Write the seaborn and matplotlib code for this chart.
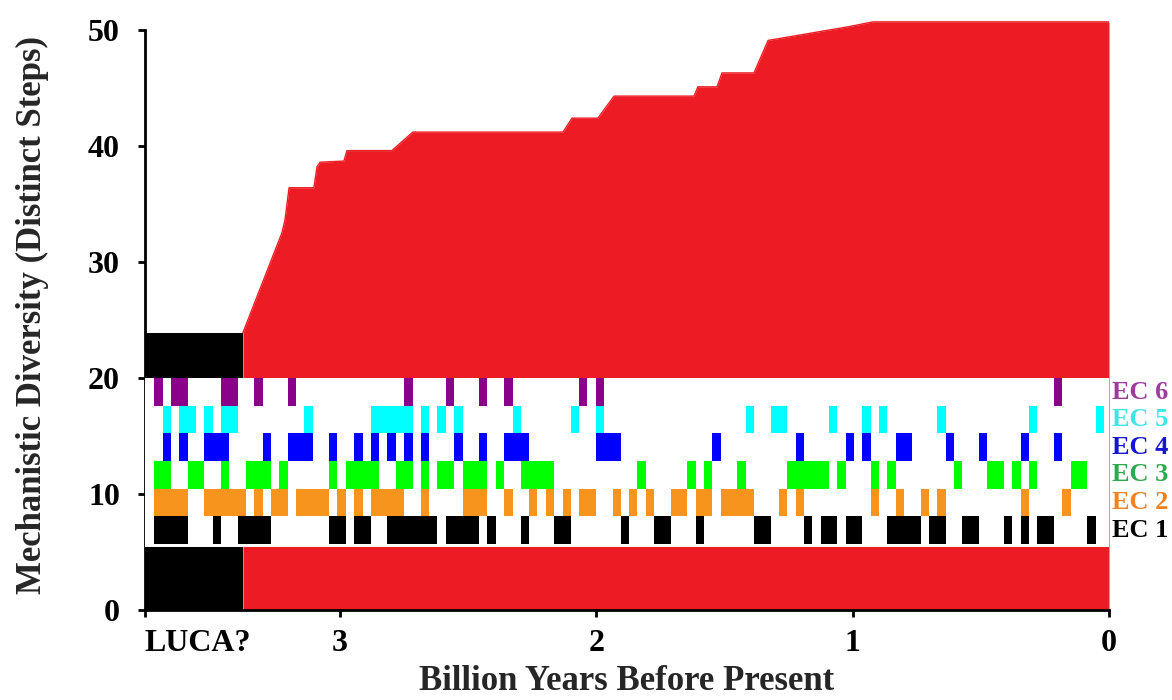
"""Mechanistic diversity through time, with EC-class event rows."""
import matplotlib
matplotlib.use("Agg")
import matplotlib.pyplot as plt
import seaborn as sns

sns.set_theme(style="white")
plt.rcParams["font.family"] = ["Liberation Serif", "DejaVu Serif"]
plt.rcParams["font.weight"] = "bold"

RED = "#ED1C24"

# cumulative distinct steps (age in Gyr before present)
age = [3.379, 3.227, 3.215, 3.199, 3.102, 3.090, 3.078, 2.985, 2.973, 2.798,
       2.716, 2.130, 2.095, 1.994, 1.931, 1.619, 1.604, 1.529, 1.510, 1.385,
       1.330, 1.011, 0.921, 0.0]
steps = [23.9, 32.5, 33.6, 36.4, 36.4, 38.2, 38.6, 38.7, 39.6, 39.6,
         41.2, 41.2, 42.4, 42.4, 44.3, 44.3, 45.1, 45.1, 46.3, 46.3,
         49.1, 50.3, 50.7, 50.7]

# LUCA block
luca_age, luca_end, luca_steps = 3.761, 3.379, 23.9
band_lo, band_hi = 5.45, 20.0

# events per EC class: (older, younger) in Gyr
ec1 = [(3.725, 3.595), (3.497, 3.465), (3.400, 3.270), (3.042, 2.977), (2.945, 2.880),
       (2.815, 2.620), (2.587, 2.457), (2.425, 2.392), (2.295, 2.262), (2.165, 2.100),
       (1.905, 1.872), (1.775, 1.710), (1.612, 1.580), (1.385, 1.320), (1.190, 1.157),
       (1.125, 1.060), (1.027, 0.962), (0.865, 0.735), (0.702, 0.637), (0.572, 0.507),
       (0.410, 0.377), (0.345, 0.312), (0.280, 0.215), (0.085, 0.052)]
ec2 = [(3.725, 3.595), (3.530, 3.367), (3.335, 3.302), (3.270, 3.205), (3.172, 3.042),
       (3.010, 2.977), (2.945, 2.912), (2.880, 2.750), (2.685, 2.652), (2.522, 2.425),
       (2.360, 2.327), (2.262, 2.230), (2.197, 2.165), (2.132, 2.100), (2.067, 2.002),
       (1.937, 1.905), (1.872, 1.840), (1.807, 1.775), (1.710, 1.645), (1.612, 1.547),
       (1.515, 1.385), (1.287, 1.255), (1.222, 1.190), (0.930, 0.897), (0.832, 0.800),
       (0.735, 0.702), (0.670, 0.637), (0.345, 0.312), (0.182, 0.150)]
ec3 = [(3.725, 3.660), (3.595, 3.530), (3.465, 3.432), (3.367, 3.270), (3.237, 3.205),
       (3.042, 3.010), (2.977, 2.847), (2.782, 2.717), (2.685, 2.652), (2.620, 2.555),
       (2.522, 2.425), (2.392, 2.360), (2.295, 2.165), (1.840, 1.807), (1.645, 1.612),
       (1.580, 1.547), (1.450, 1.417), (1.255, 1.092), (1.060, 1.027), (0.930, 0.897),
       (0.865, 0.832), (0.605, 0.572), (0.475, 0.410), (0.377, 0.345), (0.312, 0.280),
       (0.150, 0.085)]
ec4 = [(3.692, 3.660), (3.627, 3.595), (3.530, 3.432), (3.302, 3.270), (3.205, 3.107),
       (3.042, 3.010), (2.945, 2.912), (2.880, 2.847), (2.815, 2.782), (2.750, 2.717),
       (2.685, 2.652), (2.555, 2.522), (2.457, 2.425), (2.360, 2.262), (2.002, 1.905),
       (1.547, 1.515), (1.222, 1.190), (1.027, 0.995), (0.962, 0.930), (0.832, 0.767),
       (0.637, 0.605), (0.507, 0.475), (0.345, 0.312), (0.215, 0.182)]
ec5 = [(3.692, 3.660), (3.627, 3.562), (3.530, 3.497), (3.465, 3.400), (3.140, 3.107),
       (2.880, 2.717), (2.685, 2.652), (2.620, 2.587), (2.555, 2.522), (2.327, 2.295),
       (2.100, 2.067), (2.002, 1.970), (1.417, 1.385), (1.320, 1.255), (1.092, 1.060),
       (0.962, 0.930), (0.897, 0.865), (0.670, 0.637), (0.312, 0.280), (0.052, 0.020)]
ec6 = [(3.725, 3.692), (3.660, 3.595), (3.465, 3.400), (3.335, 3.302), (3.205, 3.172),
       (2.750, 2.717), (2.587, 2.555), (2.457, 2.425), (2.360, 2.327), (2.067, 2.035),
       (2.002, 1.970), (0.215, 0.182)]

ec_rows = [ec1, ec2, ec3, ec4, ec5, ec6]
ec_labels = ["EC 1", "EC 2", "EC 3", "EC 4", "EC 5", "EC 6"]
ec_colors = ["#000000", "#F7941D", "#00FF00", "#0000FF", "#00FFFF", "#8B008B"]
ec_text = ["#000000", "#F58220", "#2FA84F", "#1515D5", "#3DE6E6", "#9E3C9E"]

x_ticks = [luca_age, 3, 2, 1, 0]
x_ticklabels = ["LUCA?", "3", "2", "1", "0"]

fig = plt.figure(figsize=(11.72, 7.0), dpi=100)
ax = fig.add_axes([145 / 1172, 90 / 700, 964 / 1172, 589.3 / 700])

ax.fill_between(age, 0, steps, color=RED, lw=0, zorder=1)
sns.lineplot(x=age, y=steps, color=RED, lw=1, ax=ax, zorder=1)
ax.fill_between([luca_age, luca_end], 0, luca_steps, color="black", lw=0, zorder=2)
ax.axhspan(band_lo, band_hi, color="white", lw=0, zorder=3)

row_h = 2.38
for k, (bars, col, lab, tcol) in enumerate(zip(ec_rows, ec_colors, ec_labels, ec_text)):
    y0 = 5.7 + row_h * k
    ax.broken_barh([(young, old - young) for old, young in bars], (y0, row_h),
                   facecolors=col, lw=0, zorder=4)
    ax.text(-0.012, y0 + row_h / 2, lab, color=tcol, fontsize=19, fontweight="bold",
            ha="left", va="center", clip_on=False)

ax.set_xlim(luca_age, 0)
ax.set_ylim(0, 50.8)
ax.set_xticks(x_ticks)
ax.set_xticklabels(x_ticklabels)
ax.get_xticklabels()[0].set_ha("left")
ax.set_yticks([0, 10, 20, 30, 40, 50])

sns.despine(ax=ax)
for s in ["left", "bottom"]:
    ax.spines[s].set_linewidth(2)
    ax.spines[s].set_color("black")
ax.spines["left"].set_bounds(0, 50)
ax.tick_params(axis="both", which="both", bottom=True, left=True, direction="out",
               length=5, width=2, color="black", labelsize=23, labelcolor="black")
ax.tick_params(axis="y", pad=13)
ax.tick_params(axis="x", pad=9)

ax.set_xlabel("Billion Years Before Present", fontsize=25, fontweight="bold")
ax.set_ylabel("Mechanistic Diversity (Distinct Steps)", fontsize=25, fontweight="bold")
ax.xaxis.set_label_coords(0.5, -0.093)
ax.yaxis.set_label_coords(-0.10, 0.5)

fig.savefig("out.png", dpi=100)
print("saved out.png")
